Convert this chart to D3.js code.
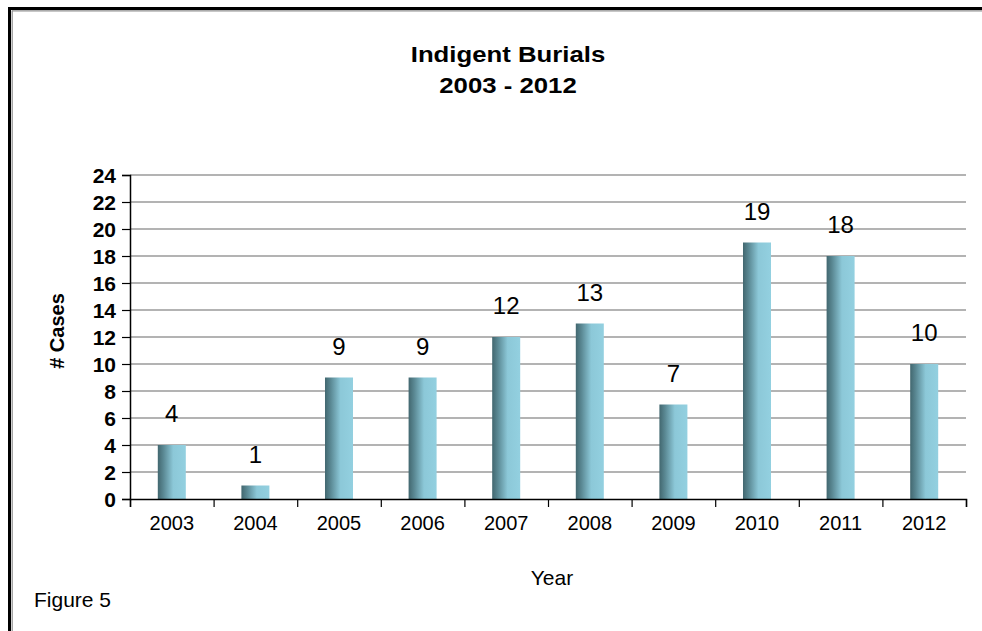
<!DOCTYPE html>
<html><head><meta charset="utf-8">
<script src="https://cdn.jsdelivr.net/npm/d3@7"></script>
<style>body{margin:0;background:#fff}svg{display:block}text{font-family:"Liberation Sans",Arial,sans-serif}</style>
</head><body><svg id="c" width="982" height="631"></svg>
<script>
const years = ["2003","2004","2005","2006","2007","2008","2009","2010","2011","2012"];
const cases = [4,1,9,9,12,13,7,19,18,10];
const yTicks = [0,2,4,6,8,10,12,14,16,18,20,22,24];
const titleLines = ["Indigent Burials","2003 - 2012"];

const svg = d3.select("#c");
const W = 982, H = 631;
const m = {left:130, right:966, top:175, bottom:499};

// frame
svg.append("rect").attr("x",0).attr("y",0).attr("width",W).attr("height",H).attr("fill","#fff");
svg.append("line").attr("x1",8).attr("x2",W).attr("y1",8.5).attr("y2",8.5).attr("stroke","#000").attr("stroke-width",3);
svg.append("line").attr("x1",9.5).attr("x2",9.5).attr("y1",7).attr("y2",H).attr("stroke","#000").attr("stroke-width",3);
svg.append("line").attr("x1",12).attr("x2",W).attr("y1",10.8).attr("y2",10.8).attr("stroke","#909090").attr("stroke-width",1.2);
svg.append("line").attr("x1",12.2).attr("x2",12.2).attr("y1",10.5).attr("y2",H).attr("stroke","#909090").attr("stroke-width",1.2);

const defs = svg.append("defs");
const g = defs.append("linearGradient").attr("id","bg").attr("x1","0").attr("x2","1").attr("y1","0").attr("y2","0");
g.append("stop").attr("offset","0").attr("stop-color","#42676f");
g.append("stop").attr("offset","0.2").attr("stop-color","#5a8893");
g.append("stop").attr("offset","0.55").attr("stop-color","#8cc8d8");
g.append("stop").attr("offset","1").attr("stop-color","#93d0e0");

const x = d3.scaleBand().domain(years).range([m.left,m.right]).padding(0);
const xi = d3.scaleLinear().domain([0,years.length]).range([m.left,m.right]);
const y = d3.scaleLinear().domain([0,24]).range([m.bottom,m.top]);

// gridlines
svg.append("g").selectAll("line").data(yTicks.filter(d=>d>0)).join("line")
  .attr("x1",m.left).attr("x2",m.right).attr("y1",d=>y(d)).attr("y2",d=>y(d))
  .attr("stroke","#9a9a9a").attr("stroke-width",1.6);

// bars
const bw = x.bandwidth()*0.335;
svg.append("g").selectAll("rect").data(cases).join("rect")
  .attr("x",(d,i)=>x(years[i])+x.bandwidth()/2-bw/2)
  .attr("y",d=>y(d)).attr("width",bw).attr("height",d=>y(0)-y(d))
  .attr("fill","url(#bg)");

// value labels
svg.append("g").selectAll("text").data(cases).join("text")
  .attr("x",(d,i)=>x(years[i])+x.bandwidth()/2)
  .attr("y",d=>y(d)-23)
  .attr("text-anchor","middle").attr("font-size",24).attr("fill","#000")
  .text(d=>d);

// y axis
const ya = svg.append("g").attr("transform",`translate(${m.left},0)`)
  .call(d3.axisLeft(y).tickValues(yTicks).tickSize(8).tickPadding(6));
ya.select(".domain").attr("stroke","#000").attr("stroke-width",1.5);
ya.selectAll(".tick line").attr("stroke","#000").attr("stroke-width",1.2);
ya.selectAll(".tick text").attr("font-size",21).attr("font-weight","bold").attr("fill","#000")
  .attr("font-family","'Liberation Sans',Arial,sans-serif").attr("dy","0.36em");

// x axis: boundary ticks
const xt = svg.append("g").attr("transform",`translate(0,${m.bottom})`)
  .call(d3.axisBottom(xi).tickValues(d3.range(0,years.length+1)).tickSize(8).tickFormat(""));
xt.select(".domain").attr("stroke","#000").attr("stroke-width",1.5);
xt.selectAll(".tick line").attr("stroke","#000").attr("stroke-width",1.2);
// x labels
const xl = svg.append("g").attr("transform",`translate(0,${m.bottom})`)
  .call(d3.axisBottom(x).tickSize(0).tickPadding(17));
xl.select(".domain").remove();
xl.selectAll(".tick text").attr("font-size",20).attr("fill","#000")
  .attr("font-family","'Liberation Sans',Arial,sans-serif");

// title
const tg = svg.append("g").attr("transform","translate(508,0) scale(1.12,1)");
tg.selectAll("text").data(titleLines).join("text")
  .attr("x",0).attr("y",(d,i)=>62+i*31).attr("text-anchor","middle")
  .attr("font-size",23).attr("font-weight","bold").text(d=>d);

// axis titles
svg.append("text").attr("transform","translate(64,331) rotate(-90)").attr("text-anchor","middle")
  .attr("font-size",20).attr("font-weight","bold").text("# Cases");
svg.append("text").attr("x",552).attr("y",585).attr("text-anchor","middle").attr("font-size",21).text("Year");
svg.append("text").attr("x",34).attr("y",607).attr("font-size",21).text("Figure 5");
</script></body></html>
